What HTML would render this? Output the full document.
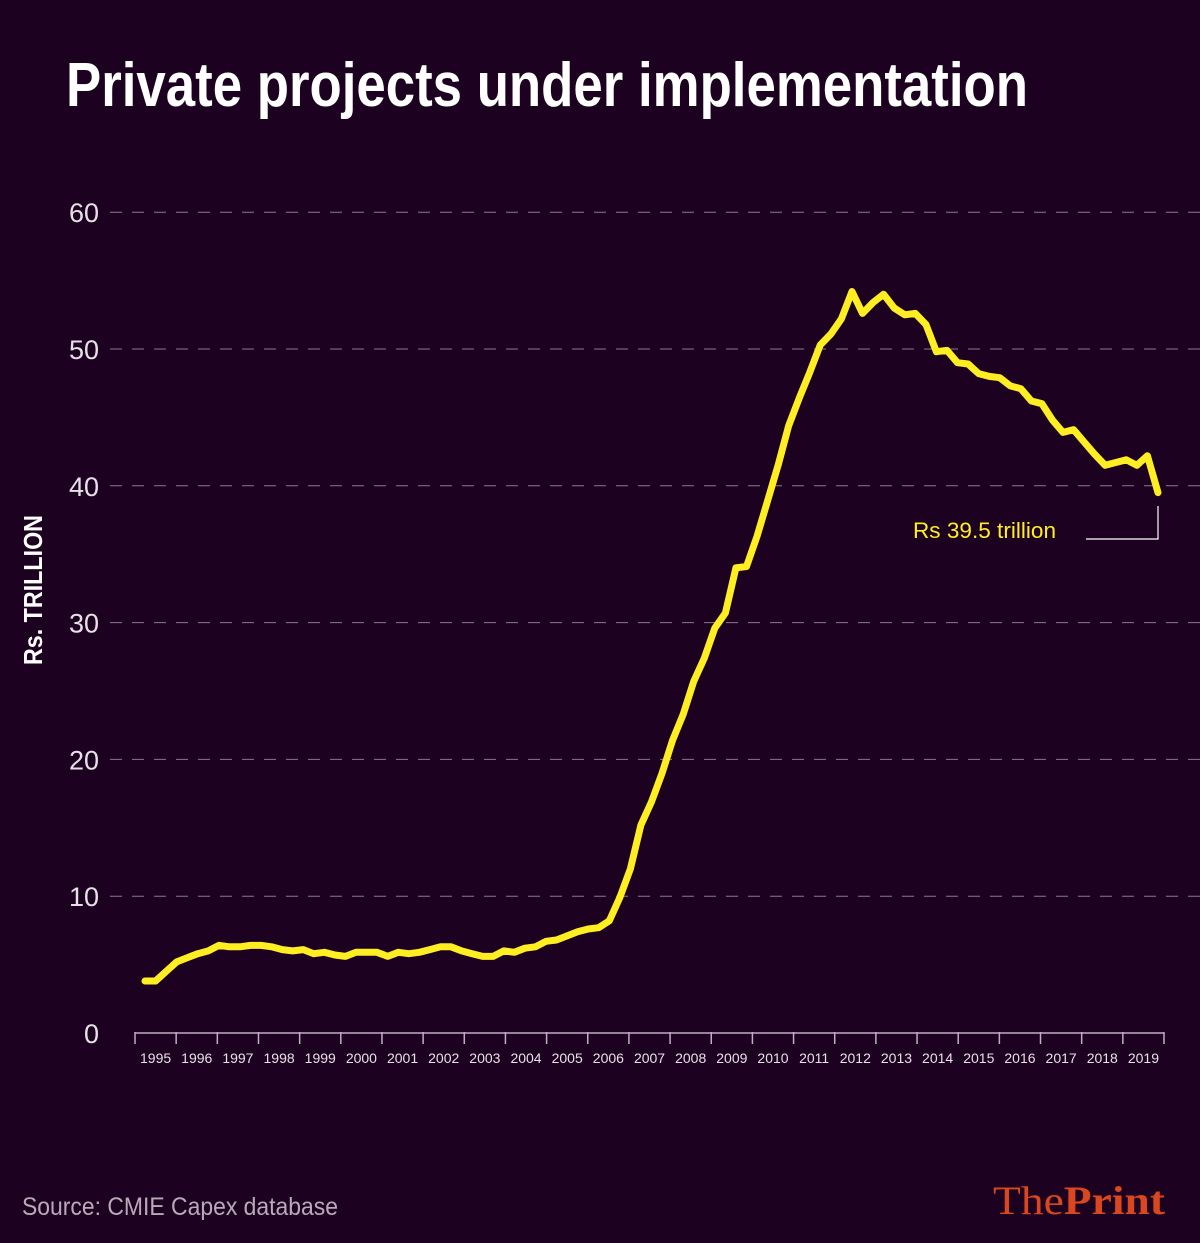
<!DOCTYPE html>
<html><head><meta charset="utf-8"><style>
body{margin:0;background:#1c0220;}
svg{display:block}
</style></head><body>
<svg width="1200" height="1243" xmlns="http://www.w3.org/2000/svg">
<rect width="1200" height="1243" fill="#1c0220"/>
<text x="66" y="106" fill="#ffffff" font-family="Liberation Sans, sans-serif" font-weight="bold" font-size="62" textLength="962" lengthAdjust="spacingAndGlyphs">Private projects under implementation</text>
<g id="grid"></g>
<g id="yticks"></g>
<text transform="translate(42,590) rotate(-90)" text-anchor="middle" fill="#ffffff" font-family="Liberation Sans, sans-serif" font-weight="bold" font-size="26" textLength="150" lengthAdjust="spacingAndGlyphs">Rs.  TRILLION</text>
<g id="xaxis"></g>
<path id="line" fill="none" stroke="#ffee22" stroke-width="7" stroke-linejoin="round" stroke-linecap="round"/>
<text x="913" y="538" fill="#ffee22" font-family="Liberation Sans, sans-serif" font-size="22" textLength="143" lengthAdjust="spacingAndGlyphs">Rs 39.5 trillion</text>
<polyline points="1086,539 1158,539 1158,506" fill="none" stroke="#ffffff" stroke-width="1.2"/>
<text x="22" y="1215" fill="#b8aab8" font-family="Liberation Sans, sans-serif" font-size="25" textLength="316" lengthAdjust="spacingAndGlyphs">Source: CMIE Capex database</text>
<text x="993" y="1214" fill="#d9461f" font-family="Liberation Serif, serif" font-size="40" textLength="172" lengthAdjust="spacingAndGlyphs">The<tspan font-weight="bold">Print</tspan></text>
</svg>
<script>
const years=["1995","1996","1997","1998","1999","2000","2001","2002","2003","2004","2005","2006","2007","2008","2009","2010","2011","2012","2013","2014","2015","2016","2017","2018","2019"];
const yTicks=[0,10,20,30,40,50,60];
const values=[3.8,3.8,4.5,5.2,5.5,5.8,6.0,6.4,6.3,6.3,6.4,6.4,6.3,6.1,6.0,6.1,5.8,5.9,5.7,5.6,5.9,5.9,5.9,5.6,5.9,5.8,5.9,6.1,6.3,6.3,6.0,5.8,5.6,5.6,6.0,5.9,6.2,6.3,6.7,6.8,7.1,7.4,7.6,7.7,8.2,9.9,12.0,15.2,16.9,19.0,21.4,23.3,25.7,27.4,29.6,30.7,34.0,34.1,36.3,38.9,41.5,44.4,46.4,48.3,50.3,51.1,52.2,54.2,52.6,53.4,54.0,53.0,52.5,52.6,51.8,49.8,49.9,49.0,48.9,48.2,48.0,47.9,47.3,47.1,46.2,46.0,44.8,43.9,44.1,43.2,42.3,41.5,41.7,41.9,41.5,42.2,39.5];
const NS="http://www.w3.org/2000/svg";
const y=v=>1033-v*13.68;
const xYear=i=>135+i*41.16;
const xPt=i=>145+i*(1013/(values.length-1));
function mk(tag,attrs,parent){const e=document.createElementNS(NS,tag);for(const k in attrs)e.setAttribute(k,attrs[k]);parent.appendChild(e);return e;}
const grid=document.getElementById('grid'),yt=document.getElementById('yticks'),xa=document.getElementById('xaxis');
yTicks.forEach(v=>{
  if(v>0){const l=mk('line',{x1:110,x2:1200,y1:y(v),y2:y(v),stroke:'#8a7a8c','stroke-width':1,'stroke-dasharray':'12,10'},grid);
  
  }
  const t=mk('text',{x:99,y:y(v)+10,'text-anchor':'end',fill:'#e8e0e8','font-family':'Liberation Sans, sans-serif','font-size':27},yt);
  t.textContent=v;
  
  
});
const ax=mk('line',{x1:135,x2:1164,y1:1033,y2:1033,stroke:'#bdb0bf','stroke-width':1.5},xa);


for(let i=0;i<=years.length;i++){
  const tk=mk('line',{x1:xYear(i),x2:xYear(i),y1:1032,y2:1044,stroke:'#bdb0bf','stroke-width':1.5},xa);
  
  
}
years.forEach((yr,i)=>{
  const t=mk('text',{x:xYear(i)+20.6,y:1063,'text-anchor':'middle',fill:'#e8e0e8','font-family':'Liberation Sans, sans-serif','font-size':14},xa);
  t.textContent=yr;
  
  
});
document.getElementById('line').setAttribute('d',values.map((v,i)=>(i?'L':'M')+xPt(i).toFixed(1)+','+y(v).toFixed(1)).join(''));
</script>
</body></html>
